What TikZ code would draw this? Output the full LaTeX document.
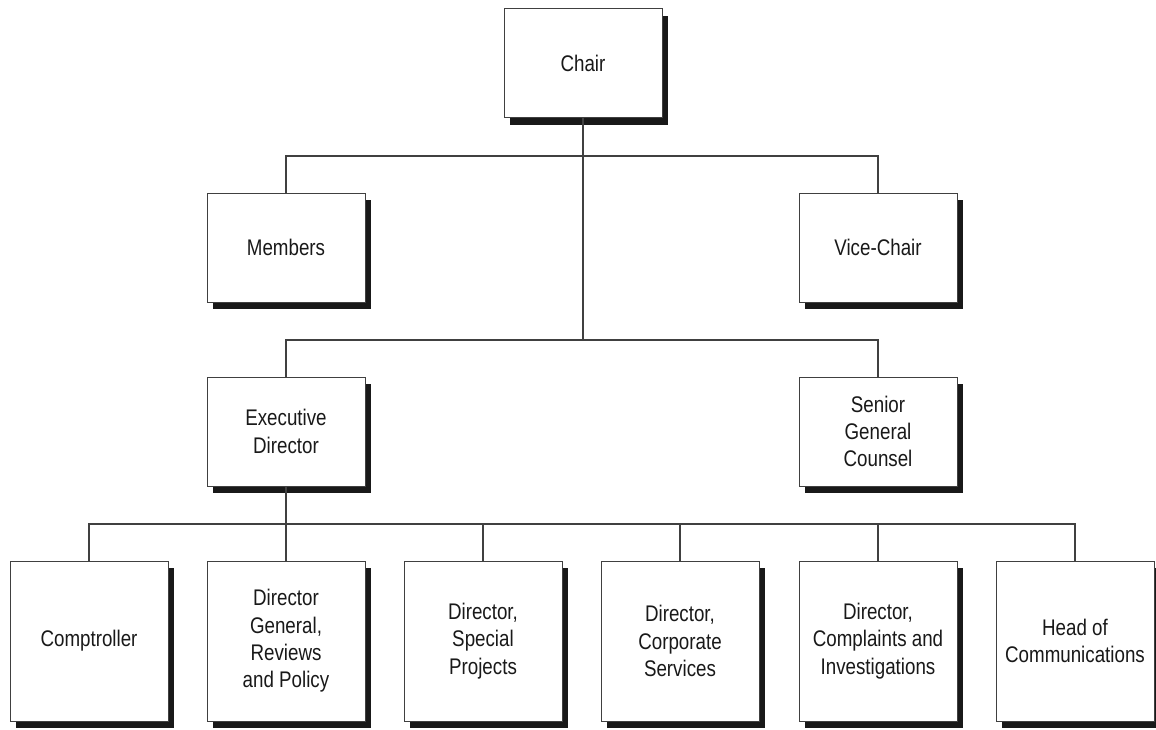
\documentclass[tikz,border=0pt]{standalone}
\usepackage{fontspec}
\setmainfont[FakeStretch=0.83]{Liberation Sans}
\usetikzlibrary{shadows}

\begin{document}
\begin{tikzpicture}[x=0.5pt, y=-0.5pt,
  box/.style={draw=black!75, line width=0.5pt, fill=white, rectangle,
    minimum width=79pt, minimum height=54.5pt, inner sep=0pt, align=center,
    text=black!90, font=\fontsize{11.3}{13.7}\selectfont,
    drop shadow={shadow xshift=3pt, shadow yshift=-3.5pt, fill=black!90, opacity=1}},
  tallbox/.style={box, minimum height=80pt},
  link/.style={draw=black!75, line width=0.65pt}]
\useasboundingbox (0,0) rectangle (1156,729);

% Chair
\node[box] (chair) at (583,63) {Chair};

% Second level
\node[box] (members) at (286,247.5) {Members};
\node[box] (vice) at (878,247.5) {Vice-Chair};
\coordinate (bar1) at (583,156);
\draw[link] (members.north) |- (bar1) -| (vice.north);

% Third level
\node[box] (exec) at (286,431.5) {Executive\\Director};
\node[box] (counsel) at (878,431.5) {Senior\\General\\Counsel};
\coordinate (bar2) at (583,340);
\draw[link] (chair.south) -- (bar2);
\draw[link] (exec.north) |- (bar2) -| (counsel.north);

% Directors
\node[tallbox] (comp) at (89,641) {Comptroller};
\node[tallbox] (dg) at (286,641) {Director\\General,\\Reviews\\and Policy};
\node[tallbox] (special) at (483,641) {Director,\\Special\\Projects};
\node[tallbox] (corp) at (680,641) {Director,\\Corporate\\Services};
\node[tallbox] (complaints) at (878,641) {Director,\\Complaints and\\Investigations};
\node[tallbox] (comms) at (1075,641) {Head of\\Communications};
\coordinate (bar3) at (286,524);
\draw[link] (exec.south) -- (bar3);
\draw[link] (comp.north) |- (bar3) -| (comms.north);
\foreach \n in {dg,special,corp,complaints}
  \draw[link] (\n.north) -- (\n.north |- bar3);

\end{tikzpicture}
\end{document}
